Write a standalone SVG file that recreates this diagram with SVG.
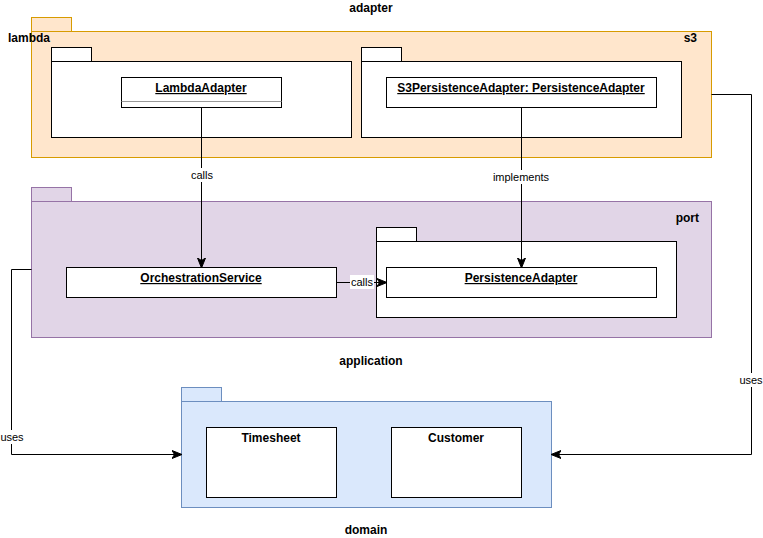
<svg xmlns="http://www.w3.org/2000/svg" width="763" height="538" viewBox="0 0 763 538">
  <style>
    text { font-family: "Liberation Sans", Arial, Helvetica, sans-serif; fill: #000; }
    .title { font-size: 12px; font-weight: bold; }
    .obj { font-size: 12px; font-weight: bold; text-decoration: underline; }
    .elabel { font-size: 11px; }
    .box { fill: #fff; stroke: #000; stroke-width: 1; }
    .adapter { fill: #ffe6cc; stroke: #d79b00; stroke-width: 1; }
    .app { fill: #e1d5e7; stroke: #9673a6; stroke-width: 1; }
    .domain { fill: #dae8fc; stroke: #6c8ebf; stroke-width: 1; }
    .edge { fill: none; stroke: #000; stroke-width: 1; }
  </style>
  <defs>
    <marker id="arrow" viewBox="0 0 10 10" refX="9" refY="5" markerWidth="10" markerHeight="10" markerUnits="userSpaceOnUse" orient="auto">
      <path d="M0,1 L10,5 L0,9 L2.5,5 Z" fill="#000" stroke="#000" stroke-width="1"/>
    </marker>
  </defs>

  <!-- adapter package -->
  <g id="adapter">
    <rect class="adapter" x="31.5" y="17.5" width="40" height="14"/>
    <rect class="adapter" x="31.5" y="31.5" width="680" height="126"/>
    <text class="title" x="371" y="12" text-anchor="middle">adapter</text>
    <text class="title" x="8" y="42">lambda</text>
    <text class="title" x="697" y="42" text-anchor="end">s3</text>
  </g>

  <g id="lambda-pkg">
    <rect class="box" x="51.5" y="47.5" width="40" height="14"/>
    <rect class="box" x="51.5" y="61.5" width="300" height="76"/>
  </g>

  <g id="lambda-adapter">
    <rect class="box" x="121.5" y="77.5" width="160" height="30"/>
    <line x1="121.5" y1="101.5" x2="281.5" y2="101.5" stroke="#999" stroke-width="1"/>
    <text class="obj" x="201" y="92" text-anchor="middle">LambdaAdapter</text>
  </g>

  <g id="s3-pkg">
    <rect class="box" x="361.5" y="47.5" width="40" height="14"/>
    <rect class="box" x="361.5" y="61.5" width="320" height="76"/>
  </g>

  <g id="s3-adapter">
    <rect class="box" x="386.5" y="77.5" width="270" height="30"/>
    <text class="obj" x="521" y="92" text-anchor="middle">S3PersistenceAdapter: PersistenceAdapter</text>
  </g>

  <!-- application package -->
  <g id="application">
    <rect class="app" x="31.5" y="187.5" width="40" height="14"/>
    <rect class="app" x="31.5" y="201.5" width="680" height="136"/>
    <text class="title" x="699" y="222" text-anchor="end">port</text>
    <text class="title" x="371" y="365" text-anchor="middle">application</text>
  </g>

  <g id="orchestration-service">
    <rect class="box" x="66.5" y="267.5" width="270" height="30"/>
    <text class="obj" x="201" y="282" text-anchor="middle">OrchestrationService</text>
  </g>

  <g id="port-pkg">
    <rect class="box" x="376.5" y="227.5" width="40" height="14"/>
    <rect class="box" x="376.5" y="241.5" width="300" height="76"/>
  </g>

  <g id="persistence-adapter">
    <rect class="box" x="386.5" y="267.5" width="270" height="30"/>
    <text class="obj" x="521" y="282" text-anchor="middle">PersistenceAdapter</text>
  </g>

  <!-- domain package -->
  <g id="domain">
    <rect class="domain" x="181.5" y="387.5" width="40" height="14"/>
    <rect class="domain" x="181.5" y="401.5" width="370" height="106"/>
    <text class="title" x="366" y="534" text-anchor="middle">domain</text>
  </g>

  <g id="timesheet">
    <rect class="box" x="206.5" y="427.5" width="130" height="70"/>
    <text class="title" x="271" y="442" text-anchor="middle">Timesheet</text>
  </g>

  <g id="customer">
    <rect class="box" x="391.5" y="427.5" width="130" height="70"/>
    <text class="title" x="456" y="442" text-anchor="middle">Customer</text>
  </g>

  <!-- connectors -->
  <g id="connectors">
    <path class="edge" d="M201.5,107.5 V267" marker-end="url(#arrow)"/>
    <rect x="190" y="168" width="24" height="14" fill="#fff"/>
    <text class="elabel" x="202" y="179" text-anchor="middle">calls</text>

    <path class="edge" d="M521.5,107.5 V267" marker-end="url(#arrow)"/>
    <rect x="492" y="170" width="59" height="14" fill="#fff"/>
    <text class="elabel" x="521" y="181" text-anchor="middle">implements</text>

    <path class="edge" d="M336.5,282.5 H386" marker-end="url(#arrow)"/>
    <rect x="350" y="275" width="24" height="14" fill="#fff"/>
    <text class="elabel" x="362" y="286" text-anchor="middle">calls</text>

    <path class="edge" d="M711.5,94.5 H751.5 V454.5 H552" marker-end="url(#arrow)"/>
    <rect x="739" y="373" width="25" height="14" fill="#fff"/>
    <text class="elabel" x="751" y="384" text-anchor="middle">uses</text>

    <path class="edge" d="M31.5,269.5 H11.5 V454.5 H181" marker-end="url(#arrow)"/>
    <rect x="0" y="430" width="25" height="14" fill="#fff"/>
    <text class="elabel" x="12" y="441" text-anchor="middle">uses</text>
  </g>
</svg>
